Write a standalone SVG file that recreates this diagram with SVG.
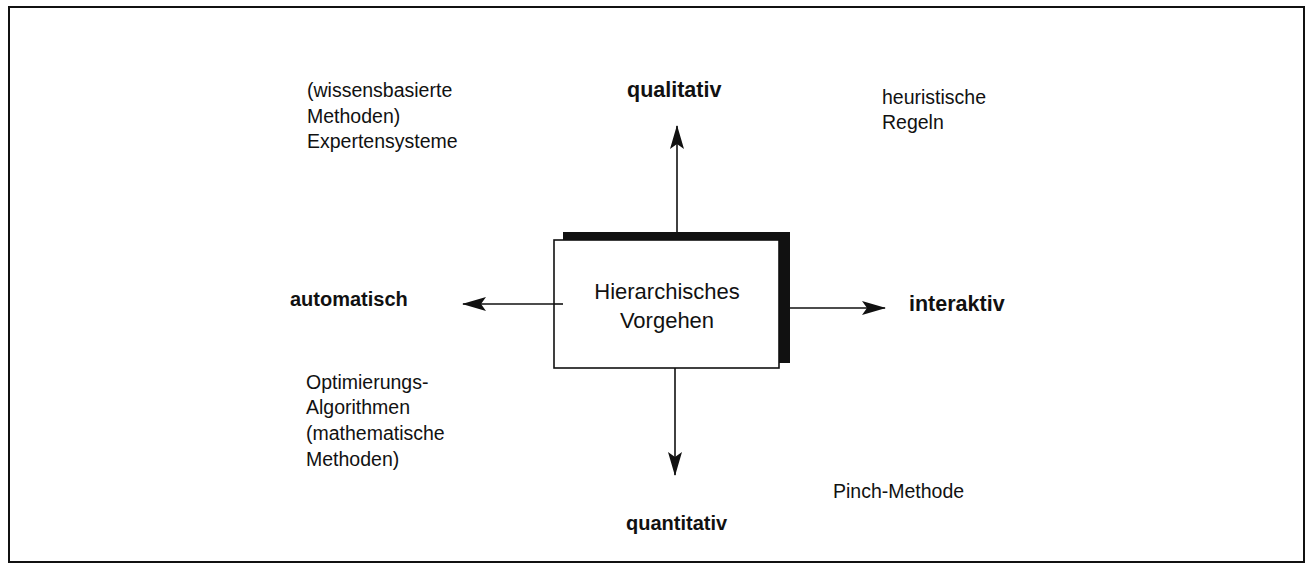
<svg xmlns="http://www.w3.org/2000/svg" width="1307" height="569" viewBox="0 0 1307 569">
<style>
text{font-family:"Liberation Sans",Arial,sans-serif;font-size:19.5px;fill:#111}
.b{font-weight:bold;font-size:20px}
.c{text-anchor:middle;font-size:22px}
.ln{stroke:#111;stroke-width:1.6;fill:none}
</style>
<defs>
<marker id="ah" viewBox="0 0 24 14" refX="23" refY="7" markerWidth="24" markerHeight="14" markerUnits="userSpaceOnUse" orient="auto">
<path d="M0,0 L24,7 L0,14 L5,7 Z" fill="#111"/>
</marker>
</defs>
<rect x="0" y="0" width="1307" height="569" fill="#fff"/>
<rect id="frame" x="9" y="7" width="1295" height="555" fill="none" stroke="#111" stroke-width="2"/>
<g id="connectors">
<line class="ln" x1="677" y1="232" x2="677" y2="126" marker-end="url(#ah)"/>
<line class="ln" x1="675" y1="368" x2="675" y2="475" marker-end="url(#ah)"/>
<line class="ln" x1="563" y1="304" x2="463" y2="304" marker-end="url(#ah)"/>
<line class="ln" x1="790" y1="308" x2="885" y2="308" marker-end="url(#ah)"/>
</g>
<g id="center">
<rect x="563" y="232" width="227" height="131" fill="#111"/>
<rect x="554" y="240" width="225" height="128" fill="#fff" stroke="#111" stroke-width="1.6"/>
<line class="ln" x1="554" y1="304" x2="563" y2="304"/>
<text class="c" x="667" y="299">Hierarchisches</text>
<text class="c" x="667" y="328">Vorgehen</text>
</g>
<g id="qualitativ"><text class="b" x="627" y="97" style="font-size:21.5px">qualitativ</text></g>
<g id="quantitativ"><text class="b" x="626" y="530">quantitativ</text></g>
<g id="automatisch"><text class="b" x="290" y="306">automatisch</text></g>
<g id="interaktiv"><text class="b" x="909" y="311" style="font-size:21.5px">interaktiv</text></g>
<g id="expertensysteme">
<text x="307" y="97">(wissensbasierte</text>
<text x="307" y="123">Methoden)</text>
<text x="307" y="148">Expertensysteme</text>
</g>
<g id="heuristische">
<text x="882" y="104">heuristische</text>
<text x="882" y="129">Regeln</text>
</g>
<g id="optimierung">
<text x="306" y="389">Optimierungs-</text>
<text x="306" y="414">Algorithmen</text>
<text x="306" y="440">(mathematische</text>
<text x="306" y="466">Methoden)</text>
</g>
<g id="pinch"><text x="833" y="498">Pinch-Methode</text></g>
</svg>
